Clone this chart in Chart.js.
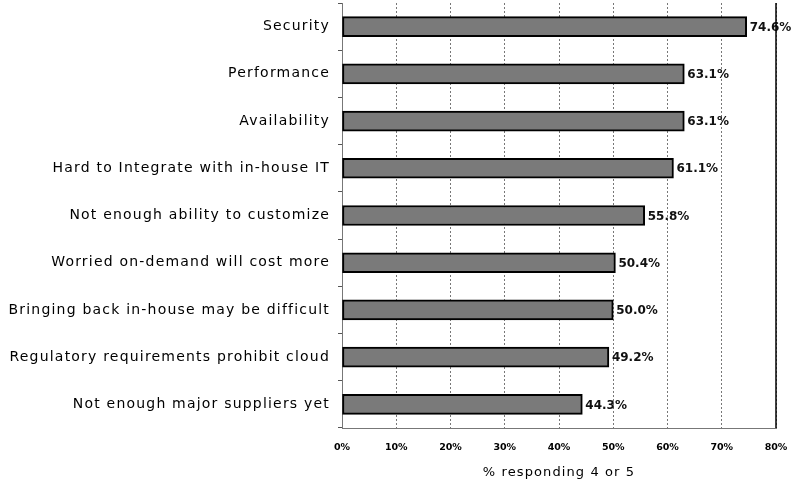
<!DOCTYPE html>
<html><head><meta charset="utf-8">
<script src="https://cdn.jsdelivr.net/npm/chart.js@4/dist/chart.umd.min.js"></script>
<style>html,body{margin:0;padding:0;background:#fff}#wrap{width:796px;height:484px}</style>
</head><body><div id="wrap"><canvas id="c" width="796" height="484"></canvas></div>
<script>
const categories = ["Security","Performance","Availability","Hard to Integrate with in-house IT","Not enough ability to customize","Worried on-demand will cost more","Bringing back in-house may be difficult","Regulatory requirements prohibit cloud","Not enough major suppliers yet"];
const values = [74.6, 63.1, 63.1, 61.1, 55.8, 50.4, 50.0, 49.2, 44.3];
const xTicks = [0,10,20,30,40,50,60,70,80];
const axisTitle = "% responding 4 or 5";
const FONT = '"DejaVu Sans", "Liberation Sans", Arial, sans-serif';

function withSpacing(obj, method, sp){
  const orig = obj[method];
  if (orig.__wrapped) return;
  const fn = function(...args){
    const ctx = this.ctx;
    const prev = ctx.letterSpacing;
    ctx.letterSpacing = sp;
    orig.apply(this, args);
    ctx.letterSpacing = prev || '0px';
  };
  fn.__wrapped = true;
  obj[method] = fn;
}
const spacing = {
  id:'spacing',
  afterUpdate(chart){
    withSpacing(chart.scales.y, 'drawLabels', '1.2px');
    withSpacing(chart.scales.x, 'drawTitle', '1.1px');
  }
};
const valueLabels = {
  id:'valueLabels',
  afterDatasetsDraw(chart){
    const ctx = chart.ctx;
    const meta = chart.getDatasetMeta(0);
    ctx.save();
    ctx.letterSpacing = '0px';
    ctx.font = 'bold 12px ' + FONT;
    ctx.fillStyle = '#111';
    ctx.textBaseline = 'middle';
    meta.data.forEach((bar,i)=>{
      ctx.fillText(values[i].toFixed(1)+'%', bar.x+3, bar.y+1);
    });
    ctx.restore();
  }
};
const frame = {
  id:'frame',
  afterDraw(chart){
    const a = chart.chartArea, ctx = chart.ctx;
    ctx.save();
    ctx.strokeStyle = '#000'; ctx.lineWidth = 1.5;
    ctx.beginPath(); ctx.moveTo(a.right, a.top); ctx.lineTo(a.right, a.bottom); ctx.stroke();
    ctx.restore();
  }
};

new Chart(document.getElementById('c'), {
  type:'bar',
  data:{labels:categories, datasets:[{data:values, backgroundColor:'#7a7a7a', borderColor:'#000', borderWidth:2, borderSkipped:false, barThickness:20}]},
  options:{
    indexAxis:'y', responsive:false, animation:false,
    layout:{padding:{top:3,right:20,left:0,bottom:0}},
    plugins:{legend:{display:false}, tooltip:{enabled:false}},
    scales:{
      x:{min:0,max:80,
        afterBuildTicks(s){ s.ticks = xTicks.map(v=>({value:v})); },
        afterFit(s){ s.height = 56; s.paddingLeft = 0; s.paddingRight = 0; },
        ticks:{callback:v=>v+'%', color:'#000', padding:14, font:{family:FONT, size:9.5, weight:'bold'}},
        grid:{color:'#777', lineWidth:1, drawTicks:false},
        border:{color:'#777', dash:[2,2]},
        title:{display:true, text:axisTitle, color:'#000', padding:{top:8}, font:{family:FONT, size:13}}
      },
      y:{
        afterFit(s){ s.width = 342; s.paddingTop = 0; s.paddingBottom = 0; },
        ticks:{color:'#000', padding:8, font:{family:FONT, size:14}},
        grid:{offset:true, drawOnChartArea:false, tickLength:4, color:'#555'},
        border:{color:'#777', dash:[2,2]}
      }
    }
  },
  plugins:[spacing, valueLabels, frame]
});
</script>
</body></html>
